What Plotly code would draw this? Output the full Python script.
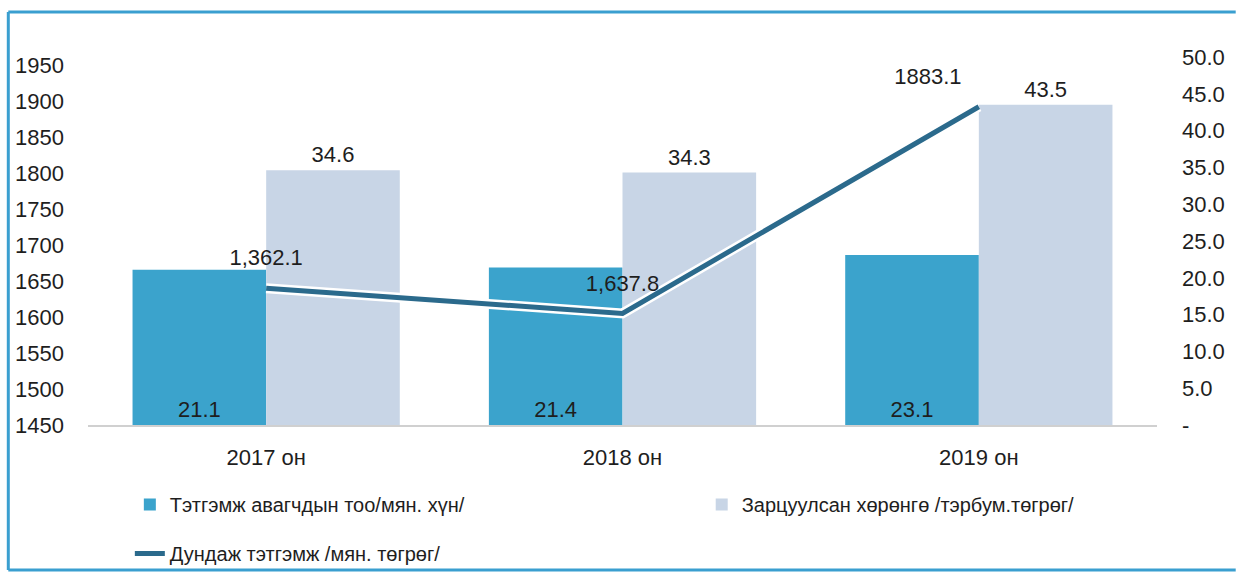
import plotly.graph_objects as go

categories = ["2017 он", "2018 он", "2019 он"]
recipients = [21.1, 21.4, 23.1]          # Тэтгэмж авагчдын тоо /мян. хүн/
spending = [34.6, 34.3, 43.5]            # Зарцуулсан хөрөнгө /тэрбум.төгрөг/
avg_benefit_pos = [1640, 1605, 1892]     # line position as drawn on the left axis
avg_benefit_labels = ["1,362.1", "1,637.8", "1883.1"]
left_ticks = [1450, 1500, 1550, 1600, 1650, 1700, 1750, 1800, 1850, 1900, 1950]
right_ticks = [0, 5, 10, 15, 20, 25, 30, 35, 40, 45, 50]
right_tick_text = ["-", "5.0", "10.0", "15.0", "20.0", "25.0", "30.0", "35.0", "40.0", "45.0", "50.0"]

names = ["Тэтгэмж авагчдын тоо/мян. хүн/", "Зарцуулсан хөрөнгө /тэрбум.төгрөг/", "Дундаж тэтгэмж /мян. төгрөг/"]

FONT = "Liberation Sans, Arial, sans-serif"
TXT = "#1e1e1e"
W, H = 1237, 573
L, R, T, B = 88, 76, 57, 148
PW, PH = W - L - R, H - T - B


def px_x(p):
    return (p - L) / PW


def px_y(p):
    return (H - B - p) / PH


def cy(p):
    return (H - p) / H


fig = go.Figure()
fig.add_trace(go.Bar(
    x=categories, y=recipients, name=names[0], yaxis="y",
    marker=dict(color="#3ba3cc", line=dict(width=0)),
    text=[f"{v:.1f}" for v in recipients], textposition="inside", insidetextanchor="start",
    textfont=dict(size=22, color=TXT, family=FONT), legend="legend",
))
fig.add_trace(go.Bar(
    x=categories, y=spending, name=names[1], yaxis="y",
    marker=dict(color="#c8d5e6", line=dict(width=0)),
    text=[f"{v:.1f}" for v in spending], textposition="outside",
    textfont=dict(size=22, color=TXT, family=FONT), legend="legend3", cliponaxis=False,
))
fig.add_trace(go.Scatter(
    x=categories, y=avg_benefit_pos, yaxis="y2", mode="lines",
    line=dict(color="white", width=10), showlegend=False, hoverinfo="skip",
))
fig.add_trace(go.Scatter(
    x=categories, y=avg_benefit_pos, yaxis="y2", name=names[2], mode="lines+markers+text",
    line=dict(color="#2b6a8c", width=5),
    marker=dict(size=26, color="rgba(0,0,0,0)"),
    text=avg_benefit_labels, textposition=["top center", "top center", "top left"],
    textfont=dict(size=22, color=TXT, family=FONT), legend="legend2", cliponaxis=False,
))

leg_font = dict(size=20, color=TXT, family=FONT)
fig.update_layout(
    width=W, height=H,
    margin=dict(l=L, r=R, t=T, b=B),
    paper_bgcolor="white", plot_bgcolor="white",
    font=dict(family=FONT, color=TXT, size=22),
    barmode="group", bargap=0.25, bargroupgap=0,
    xaxis=dict(showgrid=False, showline=True, linecolor="#d0d0d0", linewidth=1.5,
               ticks="", tickfont=dict(size=22, color=TXT), ticklabelstandoff=12),
    yaxis=dict(side="right", range=[0, 50], tickvals=right_ticks, ticktext=right_tick_text,
               showgrid=False, zeroline=False, showline=False, ticks="",
               tickfont=dict(size=22, color=TXT), ticklabelstandoff=24),
    yaxis2=dict(side="left", overlaying="y", range=[1450, 1450 + 500 * 368 / 360],
                tickvals=left_ticks, showgrid=False, zeroline=False, showline=False, ticks="",
                tickfont=dict(size=22, color=TXT), ticklabelstandoff=23),
    legend=dict(orientation="h", x=px_x(130), y=cy(485), yref="container", xanchor="left", yanchor="top",
                font=leg_font, bgcolor="rgba(0,0,0,0)"),
    legend3=dict(orientation="h", x=px_x(704), y=cy(485), yref="container", xanchor="left", yanchor="top",
                 font=leg_font, bgcolor="rgba(0,0,0,0)"),
    legend2=dict(orientation="h", x=px_x(130), y=cy(534), yref="container", xanchor="left", yanchor="top",
                 font=leg_font, bgcolor="rgba(0,0,0,0)"),
    shapes=[
        dict(type="line", xref="paper", yref="paper", x0=px_x(8), x1=px_x(8), y0=px_y(12), y1=px_y(570),
             line=dict(color="#3a9fd0", width=3)),
        dict(type="line", xref="paper", yref="paper", x0=px_x(8), x1=px_x(1240), y0=px_y(12), y1=px_y(12),
             line=dict(color="#3a9fd0", width=3)),
        dict(type="line", xref="paper", yref="paper", x0=px_x(8), x1=px_x(1240), y0=px_y(570), y1=px_y(570),
             line=dict(color="#3a9fd0", width=3)),
    ],
)

fig.write_html("out.html", config={"displayModeBar": False},
               post_script="document.body.style.margin='0';")
